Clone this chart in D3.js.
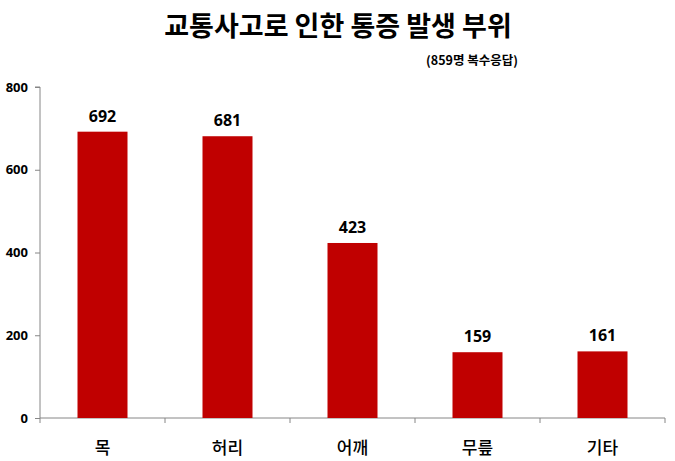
<!DOCTYPE html>
<html>
<head>
<meta charset="utf-8">
<script src="https://cdn.jsdelivr.net/npm/d3@7"></script>
<style>
	body { margin: 0; background: #fff; }
	text { font-family: "Noto Sans CJK KR", "Noto Sans", sans-serif; }
	.axis path, .axis line { stroke: #868686; }
	.y.axis text { font-size: 13px; font-weight: bold; fill: #000; font-family: "Open Sans", "Noto Sans", sans-serif; }
</style>
</head>
<body>
<svg class="chart"></svg>
<script>
// chart data
var categories = ["목", "허리", "어깨", "무릎", "기타"];
var counts = [692, 681, 423, 159, 161];
var yTicks = [0, 200, 400, 600, 800];

var margin = {top: 87, right: 10, bottom: 43, left: 40},
	width = 665 - margin.left,
	height = 418 - margin.top;

var svg = d3.select(".chart")
	.attr("width", 675)
	.attr("height", 461);

var chart = svg.append("g")
	.attr("transform", "translate(" + margin.left + "," + margin.top + ")");

var x = d3.scaleBand()
	.domain(categories)
	.range([0, width])
	.paddingInner(0.6)
	.paddingOuter(0.3);

var y = d3.scaleLinear()
	.domain([0, 800])
	.range([height, 0]);

// y axis
chart.append("g")
	.attr("class", "y axis")
	.call(d3.axisLeft(y).tickValues(yTicks).tickSize(5).tickPadding(7))
	.call(function(g) { g.select(".domain").attr("d", "M-5," + y(800) + "H0V" + y(0)); });

// x axis with ticks at category boundaries
var xAxis = chart.append("g")
	.attr("class", "x axis")
	.attr("transform", "translate(0," + height + ")");
xAxis.append("line")
	.attr("x1", 0).attr("x2", width)
	.attr("stroke", "#868686");
var step = width / categories.length;
xAxis.selectAll(".tk")
	.data(d3.range(categories.length + 1))
  .enter().append("line")
	.attr("class", "tk")
	.attr("x1", function(i) { return i * step; })
	.attr("x2", function(i) { return i * step; })
	.attr("y1", 0).attr("y2", 5)
	.attr("stroke", "#868686");
xAxis.selectAll(".lbl")
	.data(categories)
  .enter().append("text")
	.attr("class", "lbl")
	.attr("x", function(d) { return x(d) + x.bandwidth() / 2; })
	.attr("y", 36)
	.attr("text-anchor", "middle")
	.style("font-size", "17px")
	.style("font-weight", "500")
	.text(function(d) { return d; });

// bars
chart.selectAll(".bar")
	.data(counts)
  .enter().append("rect")
	.attr("class", "bar")
	.attr("x", function(d, i) { return x(categories[i]); })
	.attr("y", function(d) { return y(d); })
	.attr("width", x.bandwidth())
	.attr("height", function(d) { return height - y(d); })
	.attr("fill", "#C00000");

// value labels
chart.selectAll(".val")
	.data(counts)
  .enter().append("text")
	.attr("class", "val")
	.attr("x", function(d, i) { return x(categories[i]) + x.bandwidth() / 2; })
	.attr("y", function(d) { return y(d) - 10; })
	.attr("text-anchor", "middle")
	.style("font-size", "16px")
	.style("font-weight", "bold")
	.style("font-family", "'Open Sans', 'Noto Sans', sans-serif")
	.text(function(d) { return d; });

// title
svg.append("text")
	.attr("x", 338)
	.attr("y", 36)
	.attr("text-anchor", "middle")
	.style("font-size", "27px")
	.style("font-weight", "bold")
	.text("교통사고로 인한 통증 발생 부위");

svg.append("text")
	.attr("x", 472)
	.attr("y", 65)
	.attr("text-anchor", "middle")
	.style("font-size", "12.5px")
	.style("font-weight", "bold")
	.text("(859명 복수응답)");
</script>
</body>
</html>
